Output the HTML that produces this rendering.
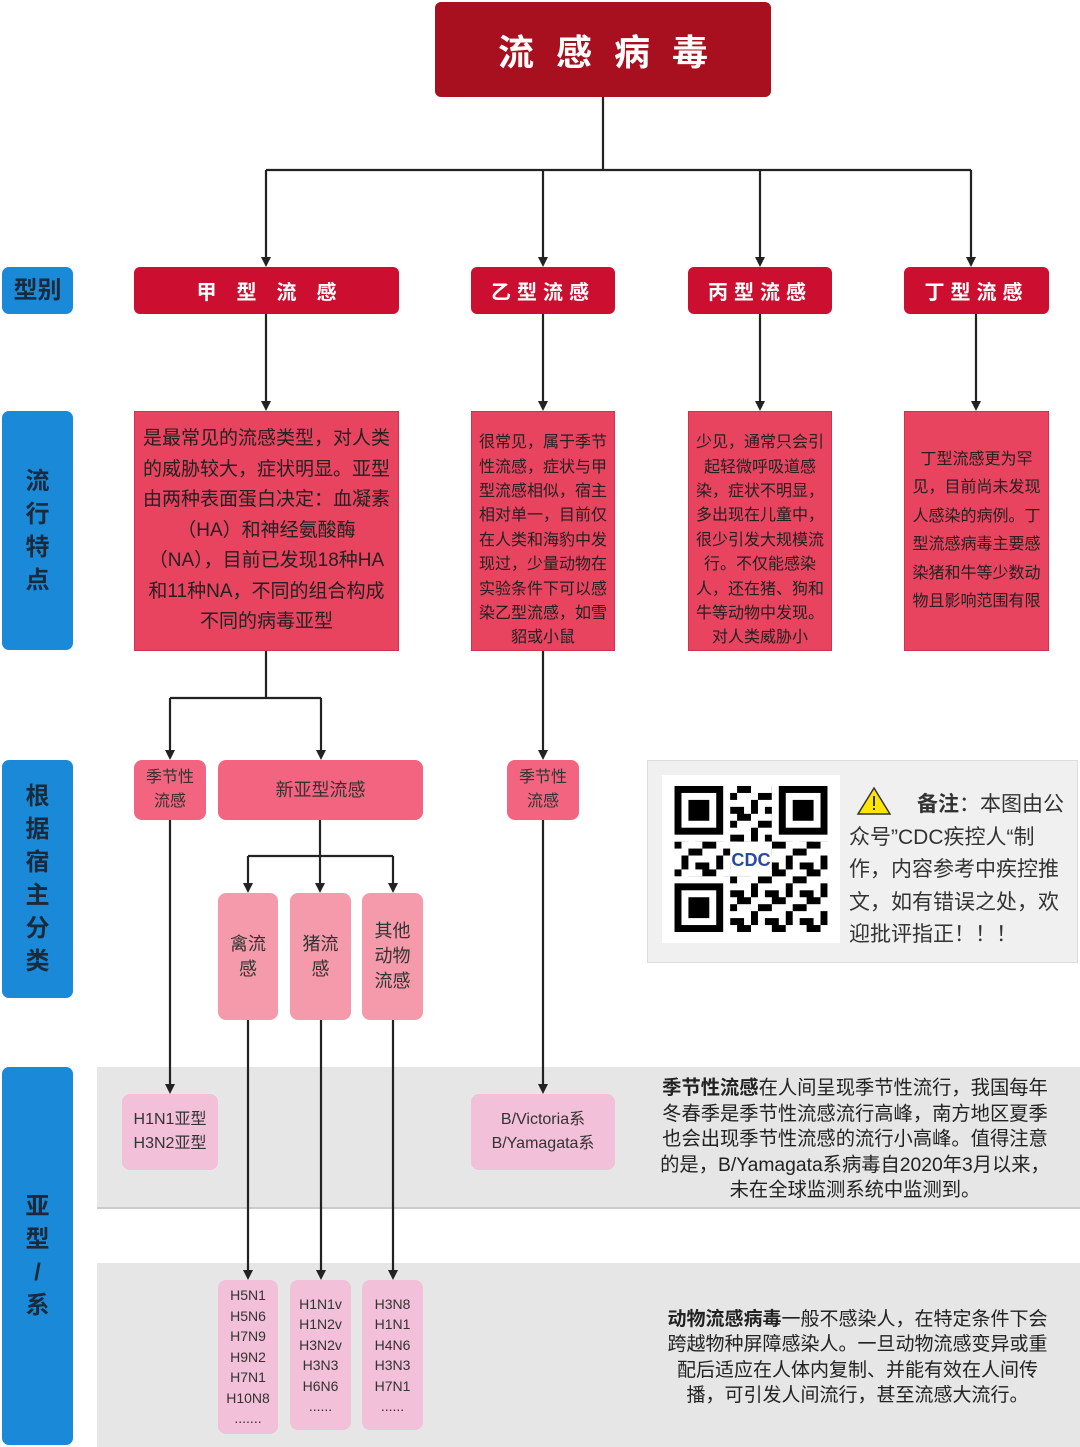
<!DOCTYPE html>
<html><head><meta charset="utf-8"><style>
body{margin:0;width:1080px;height:1447px;position:relative;background:#fff;font-family:"Liberation Sans","Noto Sans CJK SC",sans-serif;overflow:hidden}
.a{position:absolute;box-sizing:border-box;display:flex;align-items:center;justify-content:center;text-align:center}
.lab{background:#1a8ad8;border-radius:7px;color:#1a2a3a;font-weight:bold;font-size:24px;line-height:33px}
.t{background:#cc0f30;border-radius:6px;color:#fff;font-weight:bold;font-size:20px;letter-spacing:6px}
.d{background:#e8435f;color:#222;font-size:16px;line-height:24.4px;border:1px solid #d63050;padding:0 4px}
.m{background:#f2647f;border-radius:8px;color:#333;font-size:17px;line-height:24px}
.p{background:#f59aab;border-radius:8px;color:#333;font-size:18px;line-height:25px}
.s{background:#f2c0d8;border-radius:8px;color:#333;font-size:16px;line-height:24px}
.band{position:absolute;left:97px;width:983px;background:#e6e6e6;border-bottom:2px solid #ccc}
</style></head><body>
<div class="band" style="top:1067px;height:140px"></div>
<div class="band" style="top:1263px;height:184px;border:none"></div>

<div class="a" style="left:435px;top:2px;width:336px;height:95px;background:#a8101f;border-radius:6px;color:#fff;font-weight:bold;font-size:36px;letter-spacing:22px;padding-left:22px">流感病毒</div>

<div class="a lab" style="left:2px;top:267px;width:71px;height:47px">型别</div>
<div class="a lab" style="left:2px;top:411px;width:71px;height:239px">流<br>行<br>特<br>点</div>
<div class="a lab" style="left:2px;top:760px;width:71px;height:238px">根<br>据<br>宿<br>主<br>分<br>类</div>
<div class="a lab" style="left:2px;top:1067px;width:71px;height:378px">亚<br>型<br>/<br>系</div>

<div class="a t" style="left:134px;top:267px;width:265px;height:47px;letter-spacing:20px;padding-left:20px">甲型流感</div>
<div class="a t" style="left:471px;top:267px;width:144px;height:47px">乙型流感</div>
<div class="a t" style="left:688px;top:267px;width:144px;height:47px">丙型流感</div>
<div class="a t" style="left:904px;top:267px;width:145px;height:47px">丁型流感</div>

<div class="a d" style="left:134px;top:411px;width:265px;height:240px;font-size:19px;line-height:30.5px;white-space:nowrap">是最常见的流感类型，对人类<br>的威胁较大，症状明显。亚型<br>由两种表面蛋白决定：血凝素<br>（HA）和神经氨酸酶<br>（NA），目前已发现18种HA<br>和11种NA，不同的组合构成<br>不同的病毒亚型</div>
<div class="a d" style="left:471px;top:411px;width:144px;height:240px;padding-top:20px">很常见，属于季节性流感，症状与甲型流感相似，宿主相对单一，目前仅在人类和海豹中发现过，少量动物在实验条件下可以感染乙型流感，如雪貂或小鼠</div>
<div class="a d" style="left:688px;top:411px;width:144px;height:240px;padding-top:20px">少见，通常只会引起轻微呼吸道感染，症状不明显，多出现在儿童中，很少引发大规模流行。不仅能感染人，还在猪、狗和牛等动物中发现。对人类威胁小</div>
<div class="a d" style="left:904px;top:411px;width:145px;height:240px;line-height:28.5px">丁型流感更为罕见，目前尚未发现人感染的病例。丁型流感病毒主要感染猪和牛等少数动物且影响范围有限</div>

<div class="a m" style="left:134px;top:760px;width:72px;height:60px;font-size:16px">季节性<br>流感</div>
<div class="a m" style="left:218px;top:760px;width:205px;height:60px;font-size:18px">新亚型流感</div>
<div class="a m" style="left:507px;top:760px;width:72px;height:60px;font-size:16px">季节性<br>流感</div>

<div class="a p" style="left:218px;top:893px;width:60px;height:127px">禽流<br>感</div>
<div class="a p" style="left:290px;top:893px;width:61px;height:127px">猪流<br>感</div>
<div class="a p" style="left:362px;top:893px;width:61px;height:127px">其他<br>动物<br>流感</div>

<div class="a s" style="left:122px;top:1094px;width:96px;height:76px">H1N1亚型<br>H3N2亚型</div>
<div class="a s" style="left:471px;top:1094px;width:144px;height:76px">B/Victoria系<br>B/Yamagata系</div>
<div class="a s" style="left:218px;top:1280px;width:60px;height:154px;font-size:14px;line-height:20.5px">H5N1<br>H5N6<br>H7N9<br>H9N2<br>H7N1<br>H10N8<br>.......</div>
<div class="a s" style="left:290px;top:1280px;width:61px;height:150px;font-size:14px;line-height:20.5px">H1N1v<br>H1N2v<br>H3N2v<br>H3N3<br>H6N6<br>......</div>
<div class="a s" style="left:362px;top:1280px;width:61px;height:150px;font-size:14px;line-height:20.5px">H3N8<br>H1N1<br>H4N6<br>H3N3<br>H7N1<br>......</div>

<div class="a" style="left:630px;top:1075px;width:450px;height:130px;font-size:19.3px;line-height:25.5px;color:#222;white-space:nowrap"><div><b>季节性流感</b>在人间呈现季节性流行，我国每年<br>冬春季是季节性流感流行高峰，南方地区夏季<br>也会出现季节性流感的流行小高峰。值得注意<br>的是，B/Yamagata系病毒自2020年3月以来，<br>未在全球监测系统中监测到。</div></div>
<div class="a" style="left:635px;top:1305px;width:445px;height:105px;font-size:19px;line-height:25.5px;color:#222;white-space:nowrap"><div><b>动物流感病毒</b>一般不感染人，在特定条件下会<br>跨越物种屏障感染人。一旦动物流感变异或重<br>配后适应在人体内复制、并能有效在人间传<br>播，可引发人间流行，甚至流感大流行。</div></div>

<div style="position:absolute;left:647px;top:760px;width:431px;height:203px;background:#f0f0f0;border:1px solid #ddd;box-sizing:border-box"></div>
<div style="position:absolute;left:662px;top:775px;width:178px;height:168px;background:#fff"></div>
<svg style="position:absolute;left:674px;top:786px" width="154" height="146" viewBox="0 0 22 21">
<defs><pattern id="q" width="5" height="4" patternUnits="userSpaceOnUse"><rect x="0" y="0" width="1" height="1" fill="#000"/><rect x="2" y="1" width="2" height="1" fill="#000"/><rect x="1" y="2" width="1" height="2" fill="#000"/><rect x="3" y="3" width="2" height="1" fill="#000"/><rect x="4" y="0" width="1" height="1" fill="#000"/></pattern></defs>
<rect width="22" height="21" fill="url(#q)"/>
<g fill="#fff"><rect x="0" y="0" width="8" height="8"/><rect x="14" y="0" width="8" height="8"/><rect x="0" y="13" width="8" height="8"/><rect x="8" y="8" width="6" height="5"/></g>
<g fill="none" stroke="#000"><rect x="0.5" y="0.5" width="6" height="6"/><rect x="15.5" y="0.5" width="6" height="6"/><rect x="0.5" y="14.5" width="6" height="6"/></g>
<g fill="#000"><rect x="2" y="2" width="3" height="3"/><rect x="17" y="2" width="3" height="3"/><rect x="2" y="16" width="3" height="3"/></g>
<text x="11" y="11.5" font-size="2.6" fill="#2a4aa0" text-anchor="middle" font-weight="bold" font-family="Liberation Sans">CDC</text>
</svg>
<svg style="position:absolute;left:856px;top:786px" width="36" height="30"><polygon points="18,2 34,28 2,28" fill="#ffe600" stroke="#333" stroke-width="1.5"/><rect x="17" y="10" width="2" height="10" fill="#333"/><rect x="17" y="22" width="2" height="2" fill="#333"/></svg>
<div style="position:absolute;left:849px;top:789px;width:228px;font-size:21px;line-height:32.5px;color:#333;white-space:nowrap"><span style="display:inline-block;width:68px"></span><b>备注</b>：本图由公<br>众号”CDC疾控人“制<br>作，内容参考中疾控推<br>文，如有错误之处，欢<br>迎批评指正！！！</div>

<svg style="position:absolute;left:0;top:0" width="1080" height="1447">
<g stroke="#222" stroke-width="2.2" fill="none">
<path d="M603 97V170M266 170H971"/>
<path d="M266 170V258M543 170V258M760 170V258M971 170V258"/>
<path d="M266 314V402M543 314V402M760 314V402M976 314V402"/>
<path d="M266 651V698M170 698H321M170 698V751M321 698V751"/>
<path d="M543 651V751"/>
<path d="M320 820V856M248 856H393M248 856V884M320 856V884M393 856V884"/>
<path d="M170 820V1084M543 820V1084"/>
<path d="M248 1020V1271M321 1020V1271M393 1020V1271"/>
</g>
<g fill="#222">
<polygon points="261,257 271,257 266,267"/><polygon points="538,257 548,257 543,267"/><polygon points="755,257 765,257 760,267"/><polygon points="966,257 976,257 971,267"/>
<polygon points="261,401 271,401 266,411"/><polygon points="538,401 548,401 543,411"/><polygon points="755,401 765,401 760,411"/><polygon points="971,401 981,401 976,411"/>
<polygon points="165,750 175,750 170,760"/><polygon points="316,750 326,750 321,760"/><polygon points="538,750 548,750 543,760"/>
<polygon points="243,883 253,883 248,893"/><polygon points="315,883 325,883 320,893"/><polygon points="388,883 398,883 393,893"/>
<polygon points="165,1084 175,1084 170,1094"/><polygon points="538,1084 548,1084 543,1094"/>
<polygon points="243,1270 253,1270 248,1280"/><polygon points="316,1270 326,1270 321,1280"/><polygon points="388,1270 398,1270 393,1280"/>
</g>
</svg>
</body></html>
